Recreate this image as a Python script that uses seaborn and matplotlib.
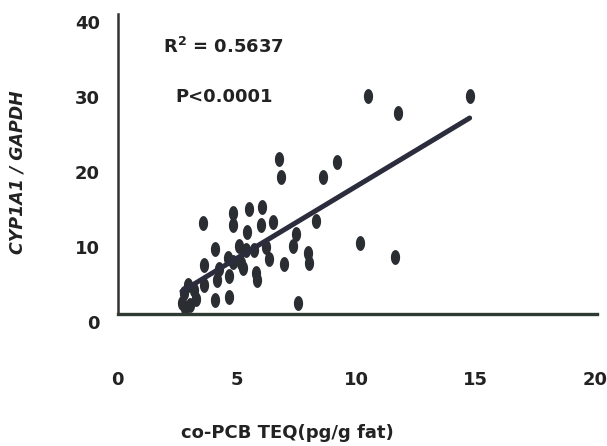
import numpy as np
import pandas as pd
import matplotlib
matplotlib.use("Agg")
import matplotlib.pyplot as plt
import matplotlib.transforms as mtransforms
from matplotlib.path import Path
import seaborn as sns

# values
teq = [10.49, 14.75, 11.76, 6.75, 9.2, 6.84, 8.61, 3.59, 4.81, 4.81,
       5.49, 6.03, 5.42, 5.99, 6.5, 8.31, 7.47, 10.15, 11.6, 4.09,
       5.08, 5.38, 5.7, 6.2, 7.33, 6.34, 6.97, 7.97, 8.03, 3.6,
       4.23, 5.15, 5.27, 5.78, 5.82, 4.65, 4.16, 3.6, 2.96, 3.18,
       2.76, 2.69, 3.04, 4.09, 4.65, 7.54, 2.83, 4.64, 4.85, 3.3]
ratio = [29.07, 29.07, 26.8, 20.6, 20.3, 18.2, 18.2, 12.1, 13.5, 11.9,
         14.0, 14.2, 10.9, 11.9, 12.3, 12.4, 10.6, 9.4, 7.6, 8.7,
         9.0, 8.5, 8.5, 8.9, 9.1, 7.3, 6.6, 8.1, 6.8, 6.5,
         6.0, 6.8, 6.1, 5.5, 4.5, 5.0, 4.5, 3.9, 3.9, 3.2,
         2.8, 1.5, 1.2, 1.9, 2.3, 1.4, 0.8, 7.5, 6.9, 2.0]
x_ticks = [0, 5, 10, 15, 20]
y_ticks = [0, 10, 20, 30, 40]

df = pd.DataFrame({"teq": teq, "ratio": ratio})

sns.set_style("white")
plt.rcParams["font.family"] = ["DejaVu Sans"]

fig = plt.figure(figsize=(6.07, 4.46), dpi=100)
ax = fig.add_axes([0.194, 0.296, 0.79, 0.673])

# tall ellipse marker like the scanned dots
t = np.linspace(0, 2 * np.pi, 40)
ell = Path(np.column_stack([0.62 * np.cos(t), np.sin(t)]), closed=True)

sns.regplot(data=df, x="teq", y="ratio", ax=ax, ci=None,
            marker=ell,
            scatter_kws={"s": 115, "color": "#2a2e33", "alpha": 1, "linewidths": 0},
            line_kws={"color": "#2b2d3c", "linewidth": 3.6})

ax.set_xlim(0, 20.1)
ax.set_ylim(0, 40)
ax.set_xticks(x_ticks)
ax.set_yticks(y_ticks)
ax.tick_params(axis="both", direction="in", length=5, width=1, color="#888888",
               labelsize=13, labelcolor="#222222")
ax.tick_params(axis="x", pad=41)
ax.tick_params(axis="y", pad=13)
for lab in ax.get_xticklabels() + ax.get_yticklabels():
    lab.set_fontweight("bold")
offset = mtransforms.ScaledTranslation(0, -8 / 100, fig.dpi_scale_trans)
for lab in ax.get_yticklabels():
    lab.set_transform(lab.get_transform() + offset)

sns.despine(ax=ax)
ax.spines["left"].set_linewidth(1.8)
ax.spines["left"].set_color("#333333")
ax.spines["bottom"].set_linewidth(2.4)
ax.spines["bottom"].set_color("#2f3a33")

ax.set_xlabel("co-PCB TEQ(pg/g fat)", fontsize=13, fontweight="bold", color="#222222")
ax.xaxis.set_label_coords(0.353, -0.365)
ax.set_ylabel("CYP1A1 / GAPDH", fontsize=12.5, fontweight="bold",
              fontstyle="italic", color="#222222")
ax.yaxis.set_label_coords(-0.19, 0.473)

ax.text(1.89, 35.6, r"R$^{\mathbf{2}}$ = 0.5637", fontsize=13, fontweight="bold",
        color="#222222", va="center")
ax.text(2.43, 28.9, "P<0.0001", fontsize=13, fontweight="bold",
        color="#222222", va="center")

fig.savefig("out.png", dpi=100)
